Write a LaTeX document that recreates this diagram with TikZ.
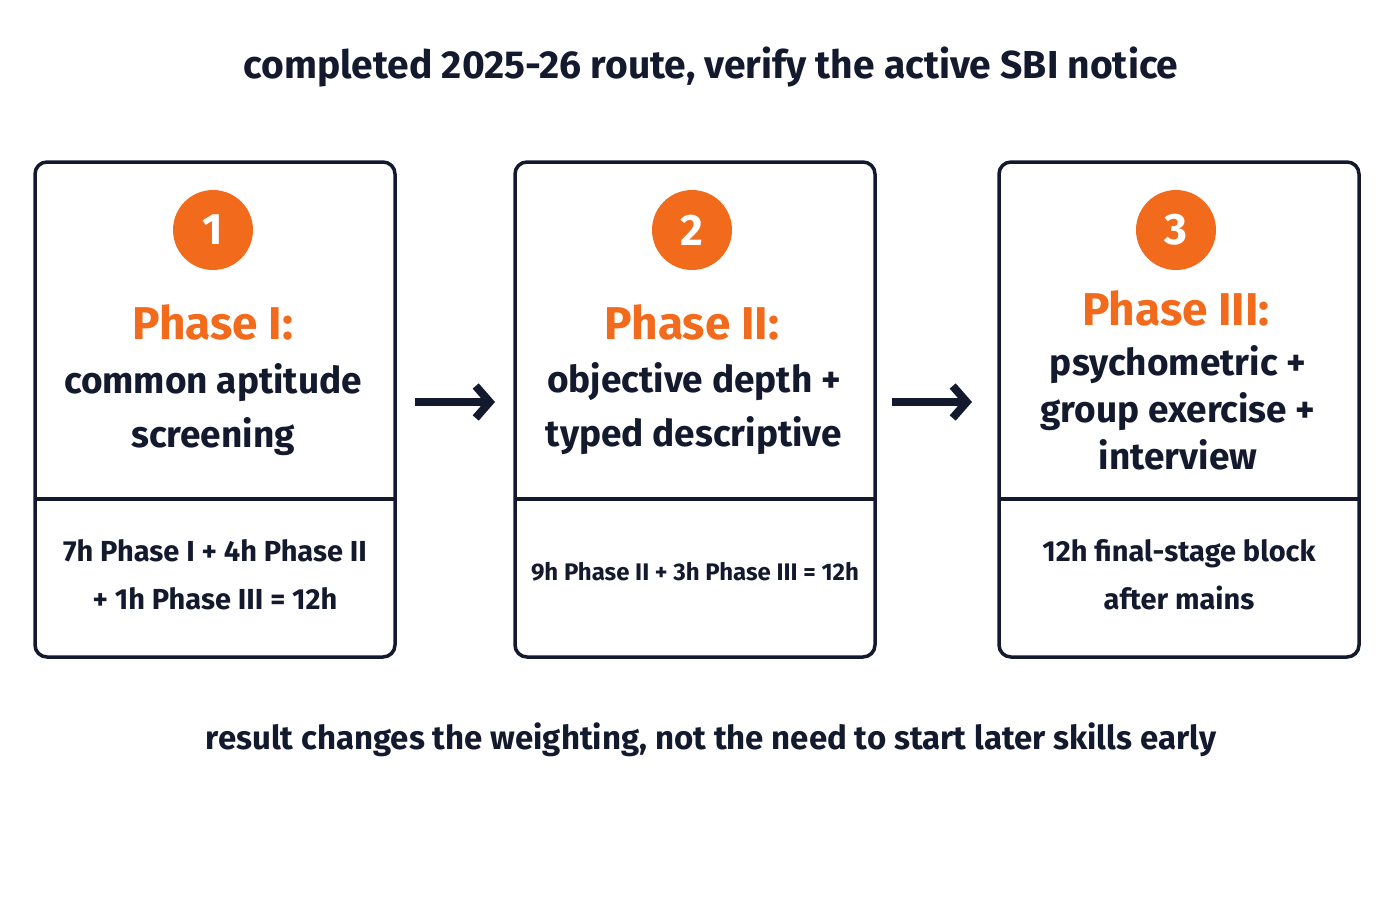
\documentclass[tikz,border=0pt]{standalone}
\usepackage{fontspec}
\setmainfont{Fira Sans}
\definecolor{ink}{HTML}{141A2E}
\definecolor{org}{HTML}{F26B1D}
\usetikzlibrary{arrows.meta}
\begin{document}
\begin{tikzpicture}[x=1pt,y=-1pt,
  box/.style={draw=ink,line width=3.5pt,rounded corners=12pt},
  num/.style={circle,fill=org,minimum size=80pt,inner sep=0pt,text=white,font=\fontsize{44}{44}\selectfont\bfseries},
  head/.style={text=org,font=\fontsize{46}{48}\selectfont\bfseries},
  body/.style={text=ink,align=center,font=\fontsize{37}{54}\selectfont\bfseries},
  foot/.style={text=ink,align=center,font=\fontsize{29}{48}\selectfont\bfseries},
  arr/.style={draw=ink,line width=8pt,-{Straight Barb[length=14pt,width=32pt,line width=8pt]}}]
\useasboundingbox (0,0) rectangle (1400,900);
\node[text=ink,font=\fontsize{39}{40}\selectfont\bfseries] (title) at (711,67) {completed 2025-26 route, verify the active SBI notice};
\node[text=ink,font=\fontsize{33}{34}\selectfont\bfseries] (foot) at (711,740) {result changes the weighting, not the need to start later skills early};
\foreach \i/\x in {1/35,2/515,3/999}{
  \draw[box] (\x,162) rectangle ++(360,495);
  \draw[ink,line width=3.5pt] (\x,499) -- ++(360,0);
}
\node[num] (n1) at (213,230) {1};
\node[num] (n2) at (692,230) {2};
\node[num] (n3) at (1176,230) {3};
\node[head] (h1) at (213,322) {Phase I:};
\node[head] (h2) at (692,322) {Phase II:};
\node[head] (h3) at (1176,308) {Phase III:};
\node[body] (b1) at (213,410) {common aptitude\\screening};
\node[body] (b2) at (694,409) {objective depth +\\typed descriptive};
\node[body,font=\fontsize{37}{47}\selectfont\bfseries] (b3) at (1178,408) {psychometric +\\group exercise +\\interview};
\node[foot] (f1) at (215,575) {7h Phase I + 4h Phase II\\+ 1h Phase III = 12h};
\node[foot,font=\fontsize{24}{30}\selectfont\bfseries] (f2) at (695,572) {9h Phase II + 3h Phase III = 12h};
\node[foot] (f3) at (1179,575) {12h final-stage block\\after mains};
\coordinate (a1s) at (415,402); \coordinate (a1e) at (495,402);
\coordinate (a2s) at (892,402); \coordinate (a2e) at (972,402);
\draw[arr] (a1s) -- (a1e);
\draw[arr] (a2s) -- (a2e);
\end{tikzpicture}
\end{document}
